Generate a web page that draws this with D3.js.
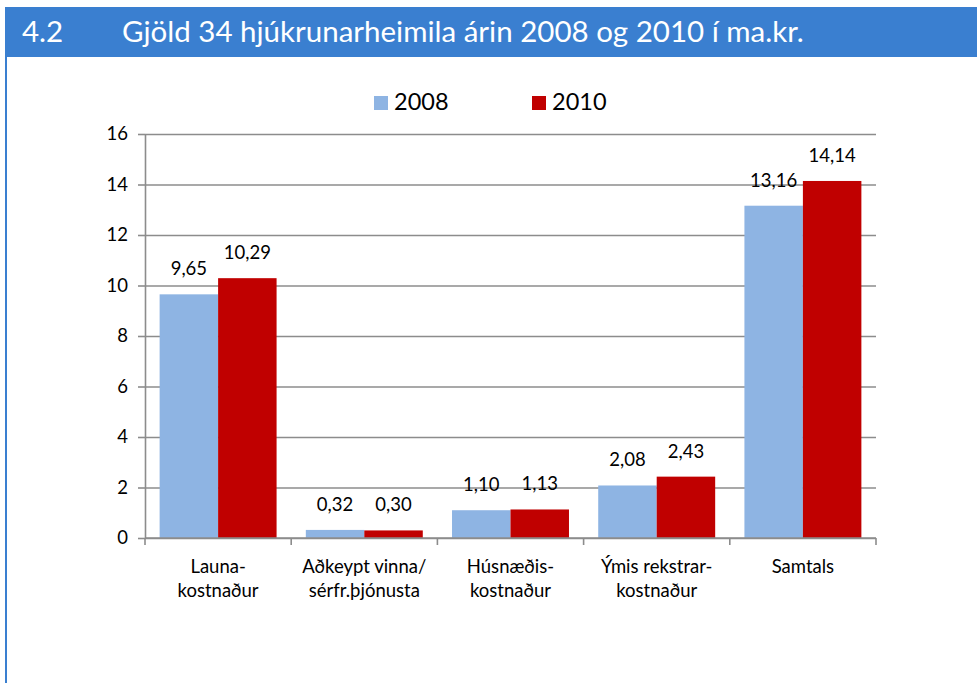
<!DOCTYPE html>
<html>
<head>
<meta charset="utf-8">
<script src="https://cdn.jsdelivr.net/npm/d3@7"></script>
<style>
  body { margin: 0; background: #fff; }
  svg { display: block; font-family: Lato, 'Open Sans', sans-serif; }
</style>
</head>
<body>
<div id="chart"></div>
<script>
// data
const categories = [
    ['Launa-', 'kostnaður'],
    ['Aðkeypt vinna/', 'sérfr.þjónusta'],
    ['Húsnæðis-', 'kostnaður'],
    ['Ýmis rekstrar-', 'kostnaður'],
    ['Samtals']
]
const series = ['2008', '2010']
const values2008 = [9.65, 0.32, 1.10, 2.08, 13.16]
const values2010 = [10.29, 0.30, 1.13, 2.43, 14.14]
const yTicks = [0, 2, 4, 6, 8, 10, 12, 14, 16]

const colors = {'2008': '#8eb4e3', '2010': '#c00000'}

const W = 977
const H = 683
const margin = {top: 134, right: 101, bottom: 145, left: 145}
const w = W - margin.left - margin.right
const h = H - margin.top - margin.bottom

const labelSize = '18.5px'

const fmt = d3.formatLocale({decimal: ',', thousands: '.', grouping: [3], currency: ['', '']}).format('.2f')

const rows = categories.map((c, i) => ({
    key: i,
    label: c,
    values: [{s: '2008', v: values2008[i]}, {s: '2010', v: values2010[i]}]
}))

const svg = d3.select('#chart')
    .append('svg')
    .attr('width', W)
    .attr('height', H)

// header band + left border
svg.append('rect')
    .attr('x', 5).attr('y', 7)
    .attr('width', W - 5).attr('height', 50)
    .attr('fill', '#3a7fd0')
svg.append('rect')
    .attr('x', 5).attr('y', 57)
    .attr('width', 2).attr('height', H - 57)
    .attr('fill', '#3a7fd0')

svg.append('text')
    .attr('x', 22).attr('y', 42)
    .attr('fill', '#fff')
    .style('font-size', '29.5px')
    .text('4.2')
svg.append('text')
    .attr('x', 122).attr('y', 42)
    .attr('fill', '#fff')
    .style('font-size', '29.5px')
    .text('Gjöld 34 hjúkrunarheimila árin 2008 og 2010 í ma.kr.')

// legend
const legend = svg.append('g')
const legendX = d3.scaleOrdinal().domain(series).range([374, 532])
series.forEach(s => {
    legend.append('rect')
        .attr('x', legendX(s)).attr('y', 96)
        .attr('width', 14).attr('height', 14)
        .attr('fill', colors[s])
    legend.append('text')
        .attr('x', legendX(s) + 20).attr('y', 110)
        .style('font-size', '23.5px')
        .attr('fill', '#000')
        .text(s)
})

const g = svg.append('g')
    .attr('transform', `translate(${margin.left}, ${margin.top})`)

const x0 = d3.scaleBand()
    .domain(rows.map(d => d.key))
    .range([0, w])
    .padding(0)

const x1 = d3.scaleBand()
    .domain(series)
    .range([0, x0.bandwidth()])
    .paddingInner(0)
    .paddingOuter(0.25)

const y = d3.scaleLinear()
    .domain([0, 16])
    .range([h, 0])

// gridlines
g.append('g')
    .attr('class', 'grid')
    .call(d3.axisLeft(y).tickValues(yTicks).tickSize(-w).tickFormat(''))
    .call(sel => sel.select('.domain').remove())
    .selectAll('line')
    .attr('stroke', '#8c8c8c')
    .attr('stroke-width', 1.6)

// y axis
g.append('g')
    .call(d3.axisLeft(y).tickValues(yTicks).tickSizeInner(7).tickSizeOuter(0).tickPadding(10))
    .call(sel => sel.select('.domain').attr('stroke', '#8c8c8c').attr('stroke-width', 1.6))
    .call(sel => sel.selectAll('line').attr('stroke', '#8c8c8c').attr('stroke-width', 1.6))
    .call(sel => sel.selectAll('text')
        .style('font-family', 'Lato, sans-serif')
        .style('font-size', labelSize)
        .attr('fill', '#000'))

// bars
const groups = g.selectAll('.group')
    .data(rows)
    .enter()
    .append('g')
    .attr('class', 'group')
    .attr('transform', d => `translate(${x0(d.key)}, 0)`)

groups.selectAll('rect')
    .data(d => d.values)
    .enter()
    .append('rect')
    .attr('x', d => x1(d.s))
    .attr('y', d => y(d.v))
    .attr('width', x1.bandwidth())
    .attr('height', d => h - y(d.v))
    .attr('fill', d => colors[d.s])

groups.selectAll('.val')
    .data(d => d.values)
    .enter()
    .append('text')
    .attr('class', 'val')
    .attr('x', d => x1(d.s) + x1.bandwidth() / 2)
    .attr('y', d => y(d.v) - 19)
    .attr('text-anchor', 'middle')
    .style('font-size', labelSize)
    .attr('fill', '#000')
    .text(d => fmt(d.v))

// x axis
const xAxis = g.append('g')
    .attr('transform', `translate(0, ${h})`)

xAxis.append('line')
    .attr('x1', 0).attr('x2', w)
    .attr('stroke', '#8c8c8c').attr('stroke-width', 1.6)

xAxis.selectAll('.tick')
    .data(rows.map(d => x0(d.key)).concat([w]))
    .enter()
    .append('line')
    .attr('x1', d => d).attr('x2', d => d)
    .attr('y1', 0).attr('y2', 7)
    .attr('stroke', '#8c8c8c').attr('stroke-width', 1.6)

xAxis.selectAll('.cat')
    .data(rows)
    .enter()
    .append('text')
    .attr('class', 'cat')
    .attr('text-anchor', 'middle')
    .attr('x', d => x0(d.key) + x0.bandwidth() / 2)
    .attr('y', 35)
    .style('font-size', labelSize)
    .attr('fill', '#000')
    .selectAll('tspan')
    .data(d => d.label)
    .enter()
    .append('tspan')
    .attr('x', function () { return this.parentNode.getAttribute('x') })
    .attr('dy', (d, i) => i === 0 ? 0 : 24)
    .text(d => d)
</script>
</body>
</html>
